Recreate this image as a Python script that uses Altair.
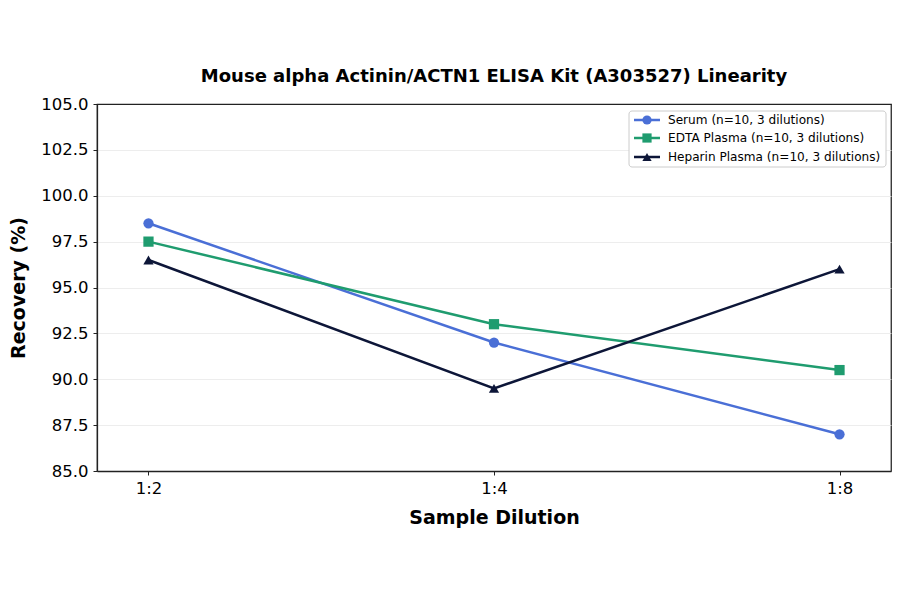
import altair as alt
import pandas as pd

dilutions = ["1:2", "1:4", "1:8"]
series_names = [
    "Serum (n=10, 3 dilutions)",
    "EDTA Plasma (n=10, 3 dilutions)",
    "Heparin Plasma (n=10, 3 dilutions)",
]
serum = [98.5, 92.0, 87.0]
edta = [97.5, 93.0, 90.5]
heparin = [96.5, 89.5, 96.0]
colors = ["#4a6fd6", "#1f9c6f", "#0d1638"]
shapes = ["circle", "square", "triangle-up"]
y_ticks = [85.0, 87.5, 90.0, 92.5, 95.0, 97.5, 100.0, 102.5, 105.0]

FONT = "DejaVu Sans"
W, H = 794, 367
FRAME = "#222222"

rows = []
for name, vals in zip(series_names, [serum, edta, heparin]):
    for d, v in zip(dilutions, vals):
        rows.append({"series": name, "dilution": d, "recovery": v})
df = pd.DataFrame(rows)

x_enc = alt.X(
    "dilution:N",
    sort=dilutions,
    scale=alt.Scale(type="point", padding=0.149),
    axis=alt.Axis(
        title="Sample Dilution", labelAngle=0, labelFontSize=16.5, titleFontSize=19,
        titleFontWeight="bold", titlePadding=12, tickSize=4, labelPadding=5,
        gridColor="#e8e8e8", gridWidth=0.8, domain=True, domainColor=FRAME,
        domainWidth=1.25, tickColor=FRAME, labelColor="black", titleColor="black",
    ),
)
y_enc = alt.Y(
    "recovery:Q",
    scale=alt.Scale(domain=[85, 105], nice=False, zero=False),
    axis=alt.Axis(
        title="Recovery (%)", values=y_ticks, format=".1f", labelFontSize=16.5,
        titleFontSize=19, titleFontWeight="bold", titlePadding=12, tickSize=4,
        labelPadding=5,
        gridColor={"condition": {"test": "datum.value >= 105", "value": FRAME},
                   "value": "#e8e8e8"},
        gridWidth=0.8, domain=True, domainColor=FRAME, domainWidth=1.25,
        tickColor=FRAME, labelColor="black", titleColor="black",
    ),
)
color_enc = alt.Color(
    "series:N", sort=series_names,
    scale=alt.Scale(domain=series_names, range=colors), legend=None,
)
shape_enc = alt.Shape(
    "series:N", sort=series_names,
    scale=alt.Scale(domain=series_names, range=shapes), legend=None,
)

lines = alt.Chart(df).mark_line(strokeWidth=2.5).encode(
    x=x_enc, y=y_enc, color=color_enc, detail="series:N"
)
points = alt.Chart(df).mark_point(filled=True, size=105, opacity=1).encode(
    x=x_enc, y=y_enc, color=color_enc, shape=shape_enc
)

# legend box drawn by hand (matplotlib style: line + marker)
box = alt.Chart(pd.DataFrame({"a": [0]})).mark_rect(
    fill="white", stroke="#cccccc", strokeWidth=1, cornerRadius=3
).encode(x=alt.value(532), x2=alt.value(789), y=alt.value(7), y2=alt.value(63))

legend_layers = [box]
row_y = [16, 34, 53]
for name, col, shp, yy in zip(series_names, colors, shapes, row_y):
    one = pd.DataFrame({"series": [name]})
    legend_layers.append(
        alt.Chart(one).mark_rule(color=col, strokeWidth=2.5).encode(
            x=alt.value(537), x2=alt.value(563), y=alt.value(yy)
        )
    )
    legend_layers.append(
        alt.Chart(one).mark_point(filled=True, size=85, opacity=1, color=col, shape=shp).encode(
            x=alt.value(550), y=alt.value(yy)
        )
    )
    legend_layers.append(
        alt.Chart(one).mark_text(
            align="left", baseline="middle", fontSize=12.1, font=FONT, color="black"
        ).encode(x=alt.value(571), y=alt.value(yy), text="series:N")
    )

chart = alt.layer(lines, points, *legend_layers).properties(
    width=W,
    height=H,
    title=alt.TitleParams(
        "Mouse alpha Actinin/ACTN1 ELISA Kit (A303527) Linearity",
        fontSize=18, fontWeight="bold", font=FONT, anchor="middle", offset=10,
        color="black",
    ),
    autosize=alt.AutoSizeParams(type="none"),
    padding={"left": 89, "top": 96, "right": 1, "bottom": 107},
).configure(font=FONT).configure_view(
    stroke=FRAME, strokeWidth=1.25
)

chart.save("out.html", embed_options={"renderer": "svg", "actions": False})
